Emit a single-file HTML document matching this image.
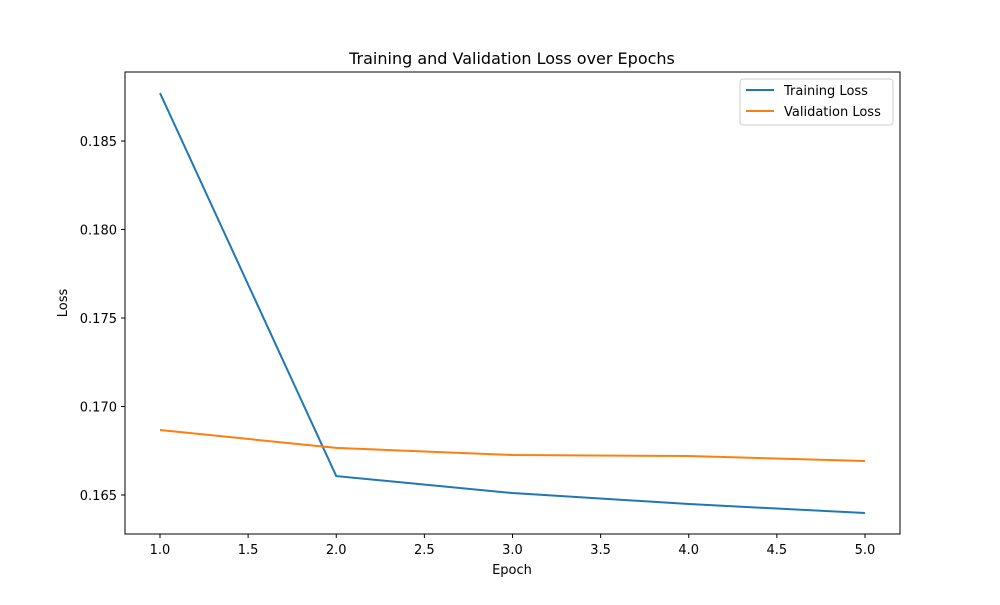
<!DOCTYPE html>
<html><head><meta charset="utf-8"><style>
body{margin:0;background:#fff;font-family:"Liberation Sans","DejaVu Sans",sans-serif;}
text{font-family:"DejaVu Sans","Liberation Sans",sans-serif;}
</style></head><body>
<svg id="chart" width="1000" height="600" xmlns="http://www.w3.org/2000/svg">
<rect width="1000" height="600" fill="#fff"/>
<text x="512" y="64" font-size="16" text-anchor="middle">Training and Validation Loss over Epochs</text>
<text x="512" y="574" font-size="13" text-anchor="middle">Epoch</text>
<text x="67" y="303" font-size="13" text-anchor="middle" transform="rotate(-90 67 303)">Loss</text>
<g id="ticks"></g>
<g id="lines"></g>
<rect x="125" y="72" width="775" height="462" fill="none" stroke="#000" stroke-width="1"/>
<g>
<rect x="740" y="79" width="153" height="46" rx="3" fill="#fff" stroke="#ccc"/>
<line x1="746" y1="90" x2="774" y2="90" stroke="#1f77b4" stroke-width="2"/>
<text x="784" y="95" font-size="13">Training Loss</text>
<line x1="746" y1="111" x2="774" y2="111" stroke="#ff7f0e" stroke-width="2"/>
<text x="784" y="116" font-size="13">Validation Loss</text>
</g>
</svg>
<script>
const epochs=[1,2,3,4,5];
const trainLoss=[0.18771,0.16607,0.16511,0.16449,0.16398];
const valLoss=[0.16867,0.16766,0.16726,0.16720,0.16692];
const xTicks=[1.0,1.5,2.0,2.5,3.0,3.5,4.0,4.5,5.0];
const yTicks=[0.165,0.170,0.175,0.180,0.185];
const NS="http://www.w3.org/2000/svg";
function xs(v){return 160+(v-1)*176.25;}
function ys(v){return 495-(v-0.165)*17700;}
function mk(tag,attrs,parent){const e=document.createElementNS(NS,tag);for(const k in attrs)e.setAttribute(k,attrs[k]);parent.appendChild(e);return e;}
const tg=document.getElementById('ticks');
xTicks.forEach(t=>{
  const l=mk('line',{x1:xs(t),x2:xs(t),y1:534,y2:538,stroke:'#000'},tg);
  
  
  const tx=mk('text',{x:xs(t),y:554,'font-size':13,'text-anchor':'middle'},tg);
  tx.textContent=t.toFixed(1);
  
  
});
yTicks.forEach(t=>{
  const l=mk('line',{x1:121,x2:125,y1:ys(t),y2:ys(t),stroke:'#000'},tg);
  
  
  const tx=mk('text',{x:117,y:ys(t)+5,'font-size':13,'text-anchor':'end'},tg);
  tx.textContent=t.toFixed(3);
  
  
});
const lg=document.getElementById('lines');
function series(vals,color,name){
  const p=mk('polyline',{points:epochs.map((e,i)=>xs(e)+','+ys(vals[i])).join(' '),fill:'none',stroke:color,'stroke-width':2},lg);
  
  
}
series(trainLoss,'#1f77b4','training-loss-line');
series(valLoss,'#ff7f0e','validation-loss-line');
</script>
</body></html>
